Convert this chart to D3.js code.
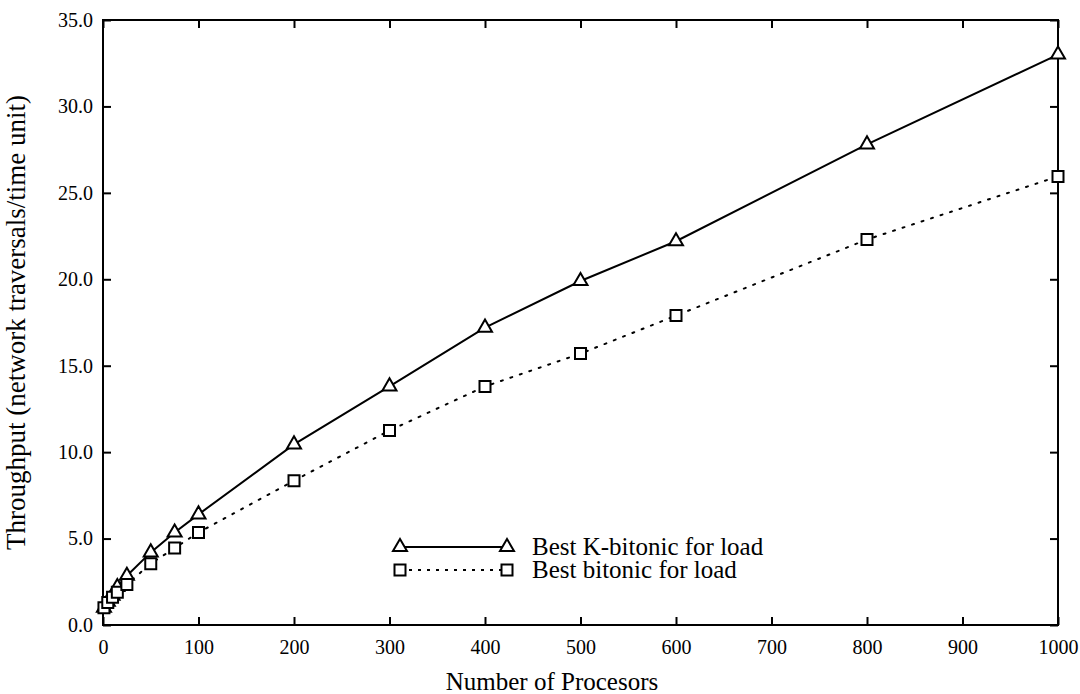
<!DOCTYPE html>
<html>
<head>
<meta charset="utf-8">
<script src="https://cdn.jsdelivr.net/npm/d3@7"></script>
<style>
  body { margin: 0; background: #fff; }
  text { font-family: "Liberation Serif", "Times New Roman", serif; fill: #000; }
</style>
</head>
<body>
<svg id="chart" width="1080" height="694"></svg>
<script>
// processors on the x axis
var procs = [1, 5, 10, 15, 25, 50, 75, 100, 200, 300, 400, 500, 600, 800, 1000];
// throughput per series
var kBitonic = [1.0, 1.35, 1.7, 2.2, 2.85, 4.2, 5.35, 6.4, 10.45, 13.8, 17.2, 19.9, 22.2, 27.8, 33.0];
var bitonic  = [1.0, 1.3, 1.6, 1.9, 2.35, 3.55, 4.45, 5.35, 8.35, 11.25, 13.8, 15.7, 17.9, 22.3, 25.95];
var xTicks = [0, 100, 200, 300, 400, 500, 600, 700, 800, 900, 1000];
var yTicks = [0, 5, 10, 15, 20, 25, 30, 35];
var seriesNames = ["Best K-bitonic for load", "Best bitonic for load"];

var plotL = 103, plotR = 1058, plotT = 20, plotB = 625;

var svg = d3.select("#chart");

var x = d3.scaleLinear().domain([0, 1000]).range([plotL, plotR]);
var y = d3.scaleLinear().domain([0, 35]).range([plotB, plotT]);

// axes: ticks point inward on all four sides
function styleAxis(g) {
  g.select(".domain").remove();
  g.selectAll(".tick line").attr("stroke", "#000").attr("stroke-width", 2);
  g.selectAll(".tick text").style("font-size", "20px");
}

svg.append("g")
  .attr("transform", "translate(0," + plotB + ")")
  .call(d3.axisBottom(x).tickValues(xTicks).tickSizeInner(-8).tickSizeOuter(0).tickFormat(d3.format("d")))
  .call(styleAxis)
  .selectAll(".tick text").attr("dy", "0.71em").attr("y", 15);

svg.append("g")
  .attr("transform", "translate(0," + plotT + ")")
  .call(d3.axisTop(x).tickValues(xTicks).tickSizeInner(-8).tickSizeOuter(0).tickFormat(""))
  .call(styleAxis);

svg.append("g")
  .attr("transform", "translate(" + plotL + ",0)")
  .call(d3.axisLeft(y).tickValues(yTicks).tickSizeInner(-8).tickSizeOuter(0).tickFormat(d3.format(".1f")))
  .call(styleAxis)
  .selectAll(".tick text").attr("x", -10);

svg.append("g")
  .attr("transform", "translate(" + plotR + ",0)")
  .call(d3.axisRight(y).tickValues(yTicks).tickSizeInner(-8).tickSizeOuter(0).tickFormat(""))
  .call(styleAxis);

// frame
svg.append("rect")
  .attr("x", plotL).attr("y", plotT)
  .attr("width", plotR - plotL).attr("height", plotB - plotT)
  .attr("fill", "none").attr("stroke", "#000").attr("stroke-width", 2);

// axis titles
svg.append("text")
  .attr("x", 552).attr("y", 690)
  .attr("text-anchor", "middle")
  .style("font-size", "25px")
  .text("Number of Procesors");

svg.append("text")
  .attr("transform", "translate(25," + ((plotT + plotB) / 2) + ") rotate(-90)")
  .attr("text-anchor", "middle")
  .style("font-size", "27px")
  .text("Throughput (network traversals/time unit)");

var triangle = d3.symbol().type(d3.symbolTriangle).size(85);
var square = "M-5.5,-5.5H5.5V5.5H-5.5Z";

var series = [
  { vals: kBitonic, dash: null, shape: triangle() },
  { vals: bitonic, dash: "2,8", shape: square }
];

var line = d3.line()
  .x(function(d) { return x(d[0]); })
  .y(function(d) { return y(d[1]); });

series.forEach(function(s) {
  var pts = procs.map(function(p, i) { return [p, s.vals[i]]; });
  svg.append("path")
    .attr("d", line(pts))
    .attr("fill", "none")
    .attr("stroke", "#000")
    .attr("stroke-width", 2)
    .attr("stroke-linecap", "round")
    .attr("stroke-dasharray", s.dash);
});

series.forEach(function(s) {
  var pts = procs.map(function(p, i) { return [p, s.vals[i]]; });
  svg.append("g").selectAll("path")
    .data(pts)
    .join("path")
    .attr("d", s.shape)
    .attr("transform", function(d) { return "translate(" + x(d[0]) + "," + y(d[1]) + ")"; })
    .attr("fill", "#fff")
    .attr("stroke", "#000")
    .attr("stroke-width", 2);
});

// legend
var legend = svg.append("g");
series.forEach(function(s, i) {
  var ly = 547 + i * 23;
  legend.append("line")
    .attr("x1", 400).attr("x2", 507)
    .attr("y1", ly).attr("y2", ly)
    .attr("stroke", "#000").attr("stroke-width", 2)
    .attr("stroke-dasharray", s.dash ? "3,6" : null);
  [400, 507].forEach(function(mx) {
    legend.append("path")
      .attr("d", s.shape)
      .attr("transform", "translate(" + mx + "," + ly + ")")
      .attr("fill", "#fff").attr("stroke", "#000").attr("stroke-width", 2);
  });
  legend.append("text")
    .attr("x", 532).attr("y", ly + 8)
    .style("font-size", "25px")
    .text(seriesNames[i]);
});
</script>
</body>
</html>
